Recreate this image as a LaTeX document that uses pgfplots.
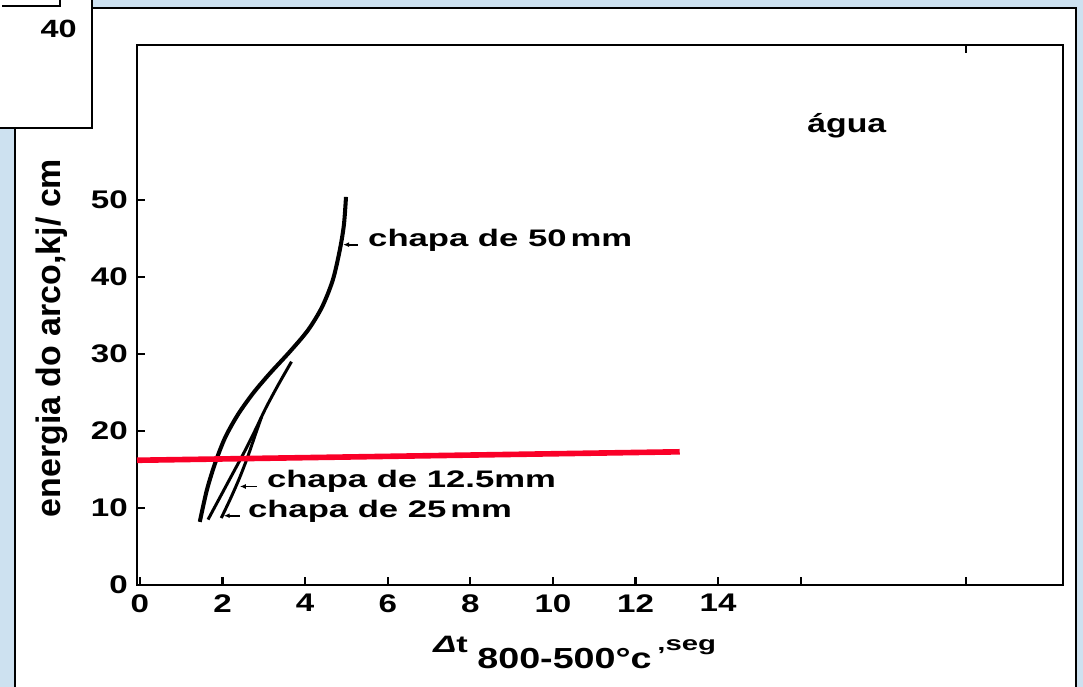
\documentclass[border=0pt]{standalone}
\usepackage{pgfplots}
\pgfplotsset{compat=1.18}
\usetikzlibrary{arrows.meta}
\usepackage{fontspec}
\setmainfont{Liberation Sans}
\newfontfamily\tickfont[FakeStretch=1.3]{Liberation Sans}
\newfontfamily\annfont[FakeStretch=1.45]{Liberation Sans}
\definecolor{bgblue}{RGB}{205,225,240}
\definecolor{myred}{RGB}{250,0,40}
\begin{document}
\begin{tikzpicture}
\begin{scope}[x=0.2mm,y=-0.2mm]
\useasboundingbox (0,0) rectangle (1083,687);
\fill[bgblue] (0,0) rectangle (1083,687);
\fill[white] (15,8) rectangle (1076,687);
\draw[line width=1pt] (15,687) -- (15,8) -- (1076,8) -- (1076,687);
\fill[white] (0,0) rectangle (92,128);
\draw[line width=1pt] (92,0) -- (92,128) -- (0,128);
\draw[line width=0.8pt] (2,6) -- (60,6) -- (60,0);
\node[font=\tickfont\bfseries\fontsize{14.2}{14}\selectfont, anchor=base east, inner sep=0pt] at (77,38) {40};
\end{scope}
\begin{axis}[
  at={(27.4mm,-117mm)}, anchor=south west,
  scale only axis, width=185.2mm, height=108mm,
  xmin=-0.07, xmax=22.35, ymin=0, ymax=70.13,
  axis line style={line width=1.5pt},
  tick style={line width=1.3pt, black},
  tick align=inside, major tick length=1.6mm,
  tick pos=left,
  xtick={0,2,...,16,20}, xticklabels={0,2,4,6,8,10,12,14,{},{}},
  ytick={0,10,...,50}, yticklabels={0,10,20,30,40,50},
  tick label style={font=\tickfont\bfseries\fontsize{14.5}{15}\selectfont},
  xticklabel style={yshift=-0.6mm},
  yticklabel style={xshift=-0.6mm},
  clip=false,
]
% chapa de 50 mm
\addplot[black, line width=2.3pt, smooth, tension=0.5] coordinates {
(1.45,8.2)(1.62,12.3)(1.82,15.8)(2.06,19.1)(2.37,22.1)(2.74,24.9)(3.15,27.5)(3.63,30.3)(4.07,33.1)(4.41,36.1)(4.67,39.6)(4.84,43.5)(4.94,46.8)(4.99,50.4)};
% chapa de 12.5 mm
\addplot[black, line width=1.7pt, smooth, tension=0.5] coordinates {
(1.65,8.5)(1.95,11.5)(2.25,14.5)(2.54,17.4)(2.80,20.2)(3.05,23.0)(3.35,26.0)(3.67,29.0)};
% chapa de 25 mm
\addplot[black, line width=1.7pt, smooth, tension=0.5] coordinates {
(1.97,8.7)(2.20,11.3)(2.42,14.0)(2.62,16.8)(2.80,19.6)(2.95,21.9)};
% red line
\addplot[myred, line width=3.2pt] coordinates {(-0.07,16.2)(13.07,17.3)};
% top tick
\draw[line width=1.3pt] (axis cs:20,70.13) -- (axis cs:20,69.1);
% annotations
\node[anchor=base west, inner sep=0pt, font=\annfont\bfseries\fontsize{13.6}{13}\selectfont] at (axis cs:5.52,43.9) {chapa de 50\,mm};
\draw[line width=1pt, -{Latex[length=1.2mm,width=1mm]}] (axis cs:5.28,44.2) -- (axis cs:4.92,44.2);
\node[anchor=base west, inner sep=0pt, font=\annfont\bfseries\fontsize{13.6}{13}\selectfont] at (axis cs:3.07,12.6) {chapa de 12.5mm};
\draw[line width=1pt, -{Latex[length=1.2mm,width=1mm]}] (axis cs:2.83,12.8) -- (axis cs:2.42,12.8);
\node[anchor=base west, inner sep=0pt, font=\annfont\bfseries\fontsize{13.6}{13}\selectfont] at (axis cs:2.61,8.83) {chapa de 25\,mm};
\draw[line width=1pt, -{Latex[length=1.2mm,width=1mm]}] (axis cs:2.42,9.0) -- (axis cs:2.03,9.0);
\node[anchor=base west, inner sep=0pt, font=\tickfont\bfseries\fontsize{14.8}{15}\selectfont] at (axis cs:16.15,58.8) {água};
\end{axis}
\begin{scope}[x=0.2mm,y=-0.2mm]
\node[anchor=base west, inner sep=0pt, font=\annfont\bfseries\fontsize{13.5}{13}\selectfont] at (433,652) {{\itshape Δ}t};
\node[anchor=base west, inner sep=0pt, font=\tickfont\bfseries\fontsize{16.5}{16}\selectfont] at (477,668) {800-500°c};
\node[anchor=base west, inner sep=0pt, font=\annfont\bfseries\fontsize{11.5}{11}\selectfont] at (657,650) {,seg};
\node[rotate=90, font=\bfseries\fontsize{19.3}{19}\selectfont] at (52,338) {energia do arco,kj/ cm};
\end{scope}
\end{tikzpicture}
\end{document}
